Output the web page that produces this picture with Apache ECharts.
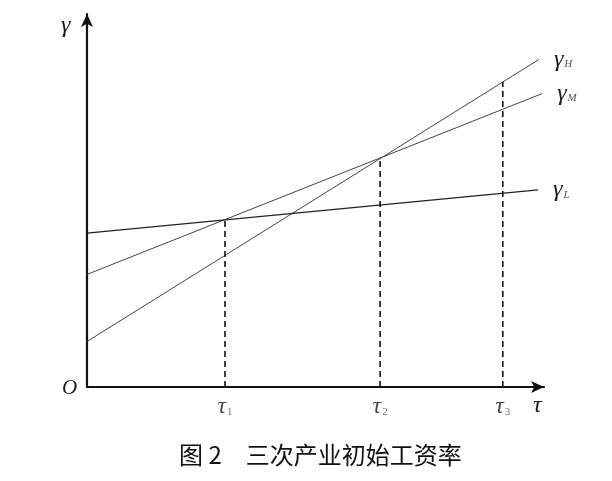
<!DOCTYPE html>
<html><head><meta charset="utf-8">
<script src="https://cdn.jsdelivr.net/npm/echarts@6/dist/echarts.min.js"></script>
<style>html,body{margin:0;padding:0;background:#fff}#c{width:612px;height:481px}</style>
</head><body><div id="c"></div>
<script>
// line names and endpoint values
const lineNames = ['H', 'M', 'L'];
const lineH = [[0, 1.2], [9.76, 8.64]];
const lineM = [[0, 2.97], [9.83, 7.74]];
const lineL = [[0, 4.06], [9.74, 5.2]];
// tau positions and dashed-line heights
const tauNames = ['1', '2', '3'];
const tauX = [2.98, 6.33, 8.98];
const tauTop = [4.41, 6.04, 8.05];
const caption = '图 2　三次产业初始工资率';

const serif = 'Liberation Serif';
const rich = {
  g: {fontFamily: serif, fontStyle: 'italic', fontSize: 24, color: '#1a1a1a'},
  s: {fontFamily: serif, fontStyle: 'italic', fontSize: 11, color: '#555', padding: [10, 0, 0, 1]},
  t: {fontFamily: serif, fontStyle: 'italic', fontSize: 24, color: '#1a1a1a'},
  n: {fontFamily: serif, fontSize: 11, color: '#555', padding: [10, 0, 0, 1]}
};

const lineData = {H: lineH, M: lineM, L: lineL};
const series = [];
lineNames.forEach(n => {
  series.push({
    type: 'line', name: n, data: lineData[n], symbol: 'none', silent: true,
    lineStyle: {color: n === 'L' ? '#222' : '#444', width: n === 'L' ? 1.2 : 1},
    endLabel: {show: true, distance: 15, fontSize: 24, fontFamily: serif,
      formatter: () => '{g|γ}{s|' + n + '}', rich: rich}
  });
});
tauX.forEach((x, i) => {
  series.push({
    type: 'line', data: [[x, 0], [x, tauTop[i]]], symbol: 'none', silent: true,
    lineStyle: {color: '#111', width: 1.6, type: [6, 4]}
  });
});
series.push({
  type: 'scatter', symbolSize: 0, silent: true,
  data: tauX.map((x, i) => [x, 0, tauNames[i]]),
  label: {show: true, position: 'bottom', distance: 8, fontSize: 24, fontFamily: serif,
    formatter: p => '{t|τ}{n|' + p.data[2] + '}', rich: rich}
});

const axisCommon = {
  type: 'value', min: 0,
  axisLine: {show: true, symbol: ['none', 'arrow'], symbolSize: [9, 13], symbolOffset: [0, 0],
    lineStyle: {color: '#111', width: 2.2}},
  axisTick: {show: false}, axisLabel: {show: false}, splitLine: {show: false}
};

const chart = echarts.init(document.getElementById('c'));
chart.setOption({
  animation: false,
  backgroundColor: '#fff',
  grid: {left: 87, right: 68, top: 14, bottom: 94},
  xAxis: Object.assign({}, axisCommon, {max: 9.87}),
  yAxis: Object.assign({}, axisCommon, {max: 9.84}),
  title: {text: caption, left: 174, top: 438,
    textStyle: {fontFamily: 'Noto Sans CJK SC', fontWeight: 'normal', fontSize: 24, color: '#111'}},
  graphic: [
    {type: 'text', left: 61, top: 14, style: {text: 'γ', font: 'italic 24px "Liberation Serif"', fill: '#1a1a1a'}},
    {type: 'text', left: 62, top: 378, style: {text: 'O', font: 'italic 21px "Liberation Serif"', fill: '#1a1a1a'}},
    {type: 'text', left: 533, top: 394, style: {text: 'τ', font: 'italic 24px "Liberation Serif"', fill: '#1a1a1a'}}
  ],
  series: series
});
</script></body></html>
